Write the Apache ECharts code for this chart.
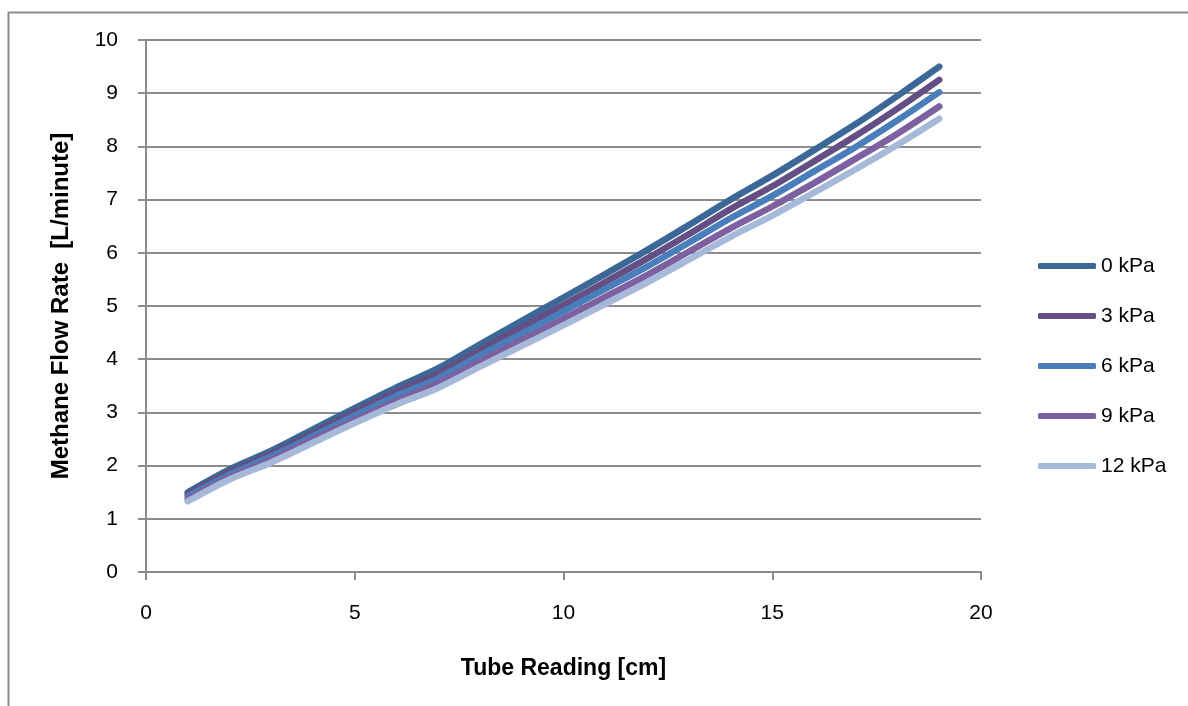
<!DOCTYPE html>
<html>
<head>
<meta charset="utf-8">
<script src="https://cdn.jsdelivr.net/npm/echarts@6/dist/echarts.min.js"></script>
<style>
html,body{margin:0;padding:0;background:#fff;}
#chart{width:1188px;height:706px;}
</style>
</head>
<body>
<div id="chart"></div>
<script>
const tubeReading = [1,2,3,4,5,6,7,8,9,10,11,12,13,14,15,16,17,18,19];
const seriesNames = ['0 kPa','3 kPa','6 kPa','9 kPa','12 kPa'];
const flow0kPa  = [1.50,1.93,2.28,2.68,3.08,3.47,3.83,4.28,4.72,5.16,5.60,6.05,6.52,7.00,7.45,7.93,8.42,8.95,9.50];
const flow3kPa  = [1.46,1.88,2.22,2.61,3.01,3.39,3.73,4.17,4.60,5.02,5.45,5.89,6.35,6.82,7.25,7.72,8.20,8.71,9.25];
const flow6kPa  = [1.42,1.83,2.17,2.55,2.94,3.31,3.64,4.07,4.48,4.90,5.32,5.74,6.19,6.65,7.07,7.53,7.99,8.49,9.02];
const flow9kPa  = [1.37,1.78,2.11,2.49,2.86,3.22,3.55,3.96,4.36,4.76,5.17,5.58,6.02,6.46,6.87,7.31,7.77,8.24,8.75];
const flow12kPa = [1.33,1.74,2.06,2.43,2.80,3.15,3.46,3.86,4.25,4.64,5.04,5.44,5.87,6.30,6.70,7.13,7.57,8.03,8.52];
const xTicks = [0,5,10,15,20];
const yTicks = [0,1,2,3,4,5,6,7,8,9,10];

const allFlows = [flow0kPa, flow3kPa, flow6kPa, flow9kPa, flow12kPa];
const colors = ['#3C6898','#634F83','#4A7EBB','#7D60A0','#A6B9D8'];
const gridGray = '#8C8C8C';
const fontFam = '"Liberation Sans", Arial, sans-serif';

const chart = echarts.init(document.getElementById('chart'), null, {renderer:'canvas'});
chart.setOption({
  backgroundColor:'#ffffff',
  animation:false,
  graphic:[{
    type:'rect', left:6, top:10, silent:true,
    shape:{x:0,y:0,width:1300,height:800},
    style:{fill:'none', stroke:gridGray, lineWidth:2}
  }],
  grid:{left:146, right:207, top:40, bottom:134, containLabel:false},
  legend:{
    orient:'vertical', left:1033, top:250,
    itemWidth:58, itemHeight:6, itemGap:28,
    icon:'roundRect',
    textStyle:{fontFamily:fontFam, fontSize:21, color:'#000', lineHeight:22, padding:[0,0,0,0]},
    data:seriesNames
  },
  xAxis:{
    type:'value', min:xTicks[0], max:xTicks[xTicks.length-1], interval:5,
    name:'Tube Reading [cm]', nameLocation:'middle', nameGap:85,
    nameTextStyle:{fontFamily:fontFam, fontSize:23, fontWeight:'bold', color:'#000'},
    axisLine:{show:true, onZero:false, lineStyle:{color:gridGray, width:2}},
    axisTick:{show:true, inside:false, length:8, lineStyle:{color:gridGray, width:2}},
    axisLabel:{fontFamily:fontFam, fontSize:21, color:'#000', margin:31},
    splitLine:{show:false}
  },
  yAxis:{
    type:'value', min:yTicks[0], max:yTicks[yTicks.length-1], interval:1,
    name:'Methane Flow Rate  [L/minute]', nameLocation:'middle', nameGap:73,
    nameTextStyle:{fontFamily:fontFam, fontSize:24, fontWeight:'bold', color:'#000'},
    axisLine:{show:true, onZero:false, lineStyle:{color:gridGray, width:2}},
    axisTick:{show:true, inside:false, length:8, lineStyle:{color:gridGray, width:2}},
    axisLabel:{fontFamily:fontFam, fontSize:21, color:'#000', margin:28},
    splitLine:{show:true, lineStyle:{color:gridGray, width:2}}
  },
  series: seriesNames.map((name, i) => ({
    name: name,
    type:'line',
    smooth:0.3,
    symbol:'none',
    showSymbol:false,
    color: colors[i],
    lineStyle:{color:colors[i], width:6.5, cap:'round', join:'round'},
    data: tubeReading.map((x, j) => [x, allFlows[i][j]])
  }))
});
</script>
</body>
</html>
